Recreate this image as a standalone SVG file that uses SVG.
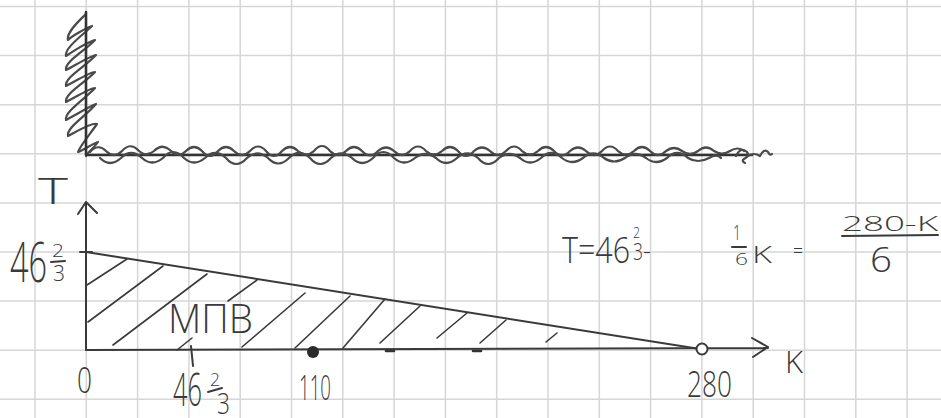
<svg xmlns="http://www.w3.org/2000/svg" width="941" height="418" viewBox="0 0 941 418">
<defs>
<style>
.grid{stroke:#d6d6d6;stroke-width:1.5;fill:none}
.ink{stroke:#3a3a3a;stroke-width:2;fill:none;stroke-linecap:round;stroke-linejoin:round}
.thick{stroke:#333;stroke-width:2.6;fill:none;stroke-linecap:round;stroke-linejoin:round}
.wave{stroke:#4a4a4a;stroke-width:2.2;fill:none;stroke-linecap:round;stroke-linejoin:round}
.hatch{stroke:#3a3a3a;stroke-width:1.6;fill:none;stroke-linecap:round}
text{font-family:"Open Sans","DejaVu Sans",sans-serif;font-weight:300;fill:#3a3a3a}
</style>
</defs>
<rect width="941" height="418" fill="#ffffff"/>
<g id="grid" class="grid">
<path d="M35,0V418M86.3,0V418M137.6,0V418M188.9,0V418M240.2,0V418M291.5,0V418M342.8,0V418M394.1,0V418M445.4,0V418M496.7,0V418M548,0V418M599.3,0V418M650.6,0V418M701.9,0V418M753.2,0V418M804.5,0V418M855.8,0V418M907.1,0V418"/>
<path d="M0,6.5H941M0,55.6H941M0,104.7H941M0,153.8H941M0,202.9H941M0,252H941M0,301.1H941M0,350.2H941M0,399.3H941"/>
</g>
<g id="top-sketch">
<path class="wave" d="M86,14 C80,20 66,32 68,40 C72,36 86,28 92,26 C84,34 64,48 66,56 C72,52 88,42 95,40 C86,50 64,62 66,70 C74,66 90,56 96,55 C86,66 64,78 66,86 C74,82 90,72 95,72 C86,82 64,94 66,102 C74,98 90,88 95,88 C86,98 64,112 66,120 C74,116 90,106 96,104 C86,116 66,128 68,136 C76,132 92,122 97,124 C90,134 80,146 78,152 C84,150 92,144 98,142 C94,148 88,152 86,156"/>
<path class="thick" d="M86,12V155H752"/>
<path class="wave" d="M90,152 q8,-9 16,-1 q8,8 16,0 q8,-9 16,-1 q8,8 16,1 q8,-8 16,-1 q8,9 16,1 q8,-8 16,0 q8,10 16,0 q8,-8 16,0 q8,8 16,0 q8,-9 16,0 q8,10 16,0 q8,-8 16,0 q8,7 16,0 q8,-10 16,0 q8,8 16,0 q8,-8 16,0 q8,9 16,0 q8,-7 16,0 q8,8 16,0 q8,-9 16,0 q8,7 16,0 q8,-8 16,0 q8,10 16,0 q8,-7 16,0 q8,8 16,0 q8,-9 16,0 q8,7 16,0 q8,-8 16,0 q8,9 16,0 q8,-7 16,0 q8,8 16,0 q8,-9 16,0 q8,7 16,0 q8,-8 16,0 q8,8 16,0 q8,-6 16,0 q8,6 16,0 q8,-7 16,0 q8,5 16,0 q8,-5 14,0"/>
<path class="wave" d="M100,158 q10,10 21,0 q10,-10 21,0 q10,9 21,0 q10,-12 21,0 q10,9 21,0 q10,-10 21,0 q10,12 21,0 q10,-9 21,0 q10,11 21,0 q10,-10 21,0 q10,12 21,0 q10,-9 21,0 q10,10 21,0 q10,-12 21,0 q10,9 21,0 q10,-8 21,0 q10,10 21,0 q10,-9 21,0 q10,12 21,0 q10,-8 21,0 q10,9 21,0 q10,-10 21,0 q10,8 21,0 q10,-9 21,0 q10,7 21,0 q10,-8 21,0 q10,8 21,0 q10,-10 21,0 q10,6 21,0 q8,-5 12,0"/>
<path class="wave" d="M736,156 q5,-10 11,-4 q3,4 -3,7 q-3,2 1,4 M748,156 q6,-4 12,0 q4,-8 8,-4 q2,4 4,2"/>
</g>
<g id="axes">
<path class="ink" d="M86,350V202M78,214L86,202L97,213"/>
<path class="ink" d="M86,350L768,348M752,338L768,347L753,357"/>
<path class="ink" d="M80,252H92"/>
<path class="ink" d="M191,346L193,366"/>
<path class="thick" d="M386,351H394M473,351H481"/>
</g>
<g id="ppf">
<path class="ink" d="M86,252L700,349"/>
<g class="hatch">
<path d="M87,285L127,259"/>
<path d="M88,322L163,266"/>
<path d="M113,345L207,274"/>
<path d="M228,301L257,280"/>
<path d="M177,350L192,338"/>
<path d="M242,347L305,293"/>
<path d="M295,348L350,296"/>
<path d="M343,348L385,299"/>
<path d="M380,343L420,306"/>
<path d="M437,338L467,313"/>
<path d="M480,343L506,320"/>
<path d="M546,342L557,333"/>
</g>
<circle cx="313" cy="352" r="6" fill="#2a2a2a"/>
<circle cx="702" cy="349" r="5.5" fill="#ffffff" stroke="#3a3a3a" stroke-width="2"/>
</g>
<g id="labels">
<text x="38" y="204" font-size="36" textLength="30" lengthAdjust="spacingAndGlyphs">T</text>
<text x="10" y="282" font-size="56" textLength="37" lengthAdjust="spacingAndGlyphs">46</text>
<text x="52" y="257" font-size="19" textLength="12" lengthAdjust="spacingAndGlyphs">2</text>
<path class="ink" d="M51,262L65,261"/>
<text x="53" y="281" font-size="22" textLength="12" lengthAdjust="spacingAndGlyphs">3</text>
<text x="77" y="393" font-size="36" textLength="15" lengthAdjust="spacingAndGlyphs">0</text>
<text x="173" y="406" font-size="46" textLength="29" lengthAdjust="spacingAndGlyphs">46</text>
<text x="210" y="386" font-size="18" textLength="10" lengthAdjust="spacingAndGlyphs">2</text>
<path class="ink" d="M208,392L222,388"/>
<text x="217" y="414" font-size="30" textLength="13" lengthAdjust="spacingAndGlyphs">3</text>
<text x="299" y="400" font-size="35" textLength="32" lengthAdjust="spacingAndGlyphs">110</text>
<text x="687" y="397" font-size="37" textLength="45" lengthAdjust="spacingAndGlyphs">280</text>
<text x="785" y="373" font-size="32" textLength="18" lengthAdjust="spacingAndGlyphs">K</text>
<text x="168" y="333" font-size="40" textLength="85" lengthAdjust="spacingAndGlyphs">МПВ</text>
</g>
<g id="formula">
<text x="562" y="263" font-size="36" textLength="68" lengthAdjust="spacingAndGlyphs">T=46</text>
<text x="633" y="238" font-size="14" textLength="7" lengthAdjust="spacingAndGlyphs">2</text>
<text x="633" y="260" font-size="24" textLength="10" lengthAdjust="spacingAndGlyphs">3</text>
<text x="643" y="259" font-size="24" textLength="8" lengthAdjust="spacingAndGlyphs">-</text>
<text x="733" y="240" font-size="20" textLength="8" lengthAdjust="spacingAndGlyphs">1</text>
<path class="ink" d="M732,247H746"/>
<text x="735" y="265" font-size="17" textLength="13" lengthAdjust="spacingAndGlyphs">6</text>
<text x="752" y="263" font-size="24" textLength="20" lengthAdjust="spacingAndGlyphs">K</text>
<text x="793" y="258" font-size="20" textLength="10" lengthAdjust="spacingAndGlyphs">=</text>
<text x="842" y="231" font-size="21" textLength="96" lengthAdjust="spacingAndGlyphs">280-K</text>
<path class="ink" d="M842,236L938,235"/>
<text x="870" y="272" font-size="34" textLength="22" lengthAdjust="spacingAndGlyphs">6</text>
</g>
</svg>
